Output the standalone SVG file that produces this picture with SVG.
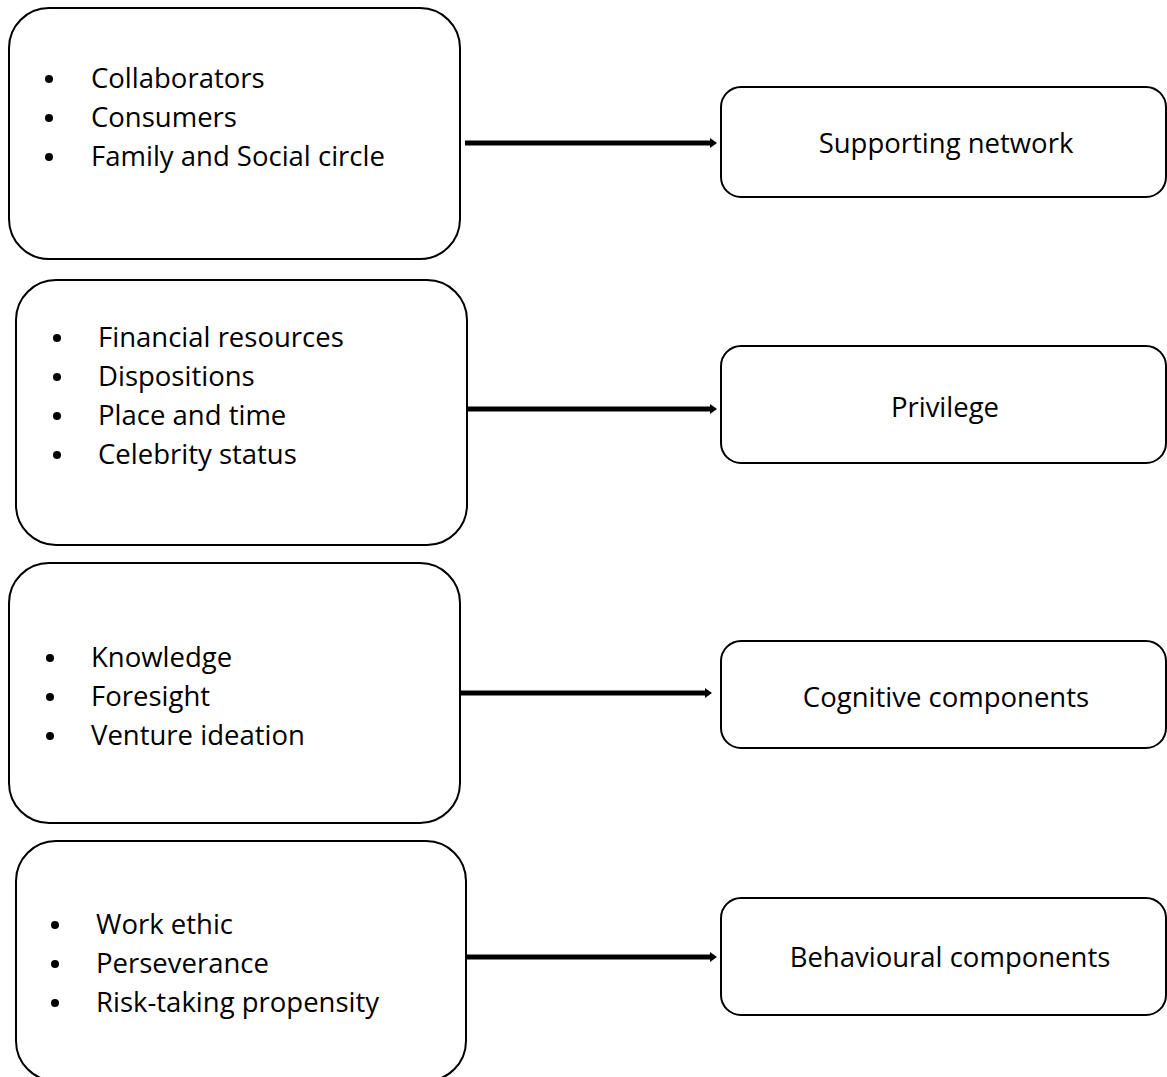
<svg xmlns="http://www.w3.org/2000/svg" width="1167" height="1077" viewBox="0 0 1167 1077">
<style>
.box{fill:#fff;stroke:#000;stroke-width:2}
.t{font-family:"Open Sans","Noto Sans","Liberation Sans",sans-serif;font-size:27.5px;fill:#000}
.c{text-anchor:middle}
.conn{stroke:#000;stroke-width:5;fill:none}
</style>
<defs>
<marker id="ah" markerUnits="userSpaceOnUse" markerWidth="10" markerHeight="12" refX="0" refY="6" orient="auto">
<path d="M0,1 L7,6 L0,11 Z" fill="#000"/>
</marker>
</defs>
<rect width="1167" height="1077" fill="#fff"/>
<g id="src1">
<rect class="box" x="9" y="8" width="451" height="251" rx="40"/>
<circle cx="49" cy="79" r="4"/><circle cx="49" cy="118" r="4"/><circle cx="49" cy="157" r="4"/>
<text class="t" x="91" y="88">Collaborators</text>
<text class="t" x="91" y="127">Consumers</text>
<text class="t" x="91" y="166">Family and Social circle</text>
</g>
<g id="src2">
<rect class="box" x="16" y="280" width="451" height="265" rx="40"/>
<circle cx="57" cy="338" r="4"/><circle cx="57" cy="377" r="4"/><circle cx="57" cy="416" r="4"/><circle cx="57" cy="455" r="4"/>
<text class="t" x="98" y="347">Financial resources</text>
<text class="t" x="98" y="386">Dispositions</text>
<text class="t" x="98" y="425">Place and time</text>
<text class="t" x="98" y="464">Celebrity status</text>
</g>
<g id="src3">
<rect class="box" x="9" y="563" width="451" height="260" rx="40"/>
<circle cx="50" cy="658" r="4"/><circle cx="50" cy="697" r="4"/><circle cx="50" cy="736" r="4"/>
<text class="t" x="91" y="667">Knowledge</text>
<text class="t" x="91" y="706">Foresight</text>
<text class="t" x="91" y="745">Venture ideation</text>
</g>
<g id="src4">
<rect class="box" x="16" y="841" width="450" height="240" rx="40"/>
<circle cx="55" cy="925" r="4"/><circle cx="55" cy="964" r="4"/><circle cx="55" cy="1003" r="4"/>
<text class="t" x="96" y="934">Work ethic</text>
<text class="t" x="96" y="973">Perseverance</text>
<text class="t" x="96" y="1012">Risk-taking propensity</text>
</g>
<g id="dst1">
<rect class="box" x="721" y="87" width="445" height="110" rx="20"/>
<text class="t c" x="946" y="153">Supporting network</text>
</g>
<g id="dst2">
<rect class="box" x="721" y="346" width="445" height="117" rx="20"/>
<text class="t c" x="945" y="417">Privilege</text>
</g>
<g id="dst3">
<rect class="box" x="721" y="641" width="445" height="107" rx="20"/>
<text class="t c" x="946" y="707">Cognitive components</text>
</g>
<g id="dst4">
<rect class="box" x="721" y="898" width="445" height="117" rx="20"/>
<text class="t c" x="950" y="967">Behavioural components</text>
</g>
<g id="connectors">
<line class="conn" x1="465" y1="143" x2="710" y2="143" marker-end="url(#ah)"/>
<line class="conn" x1="467" y1="409" x2="710" y2="409" marker-end="url(#ah)"/>
<line class="conn" x1="460" y1="693" x2="705" y2="693" marker-end="url(#ah)"/>
<line class="conn" x1="467" y1="957" x2="710" y2="957" marker-end="url(#ah)"/>
</g>
</svg>
